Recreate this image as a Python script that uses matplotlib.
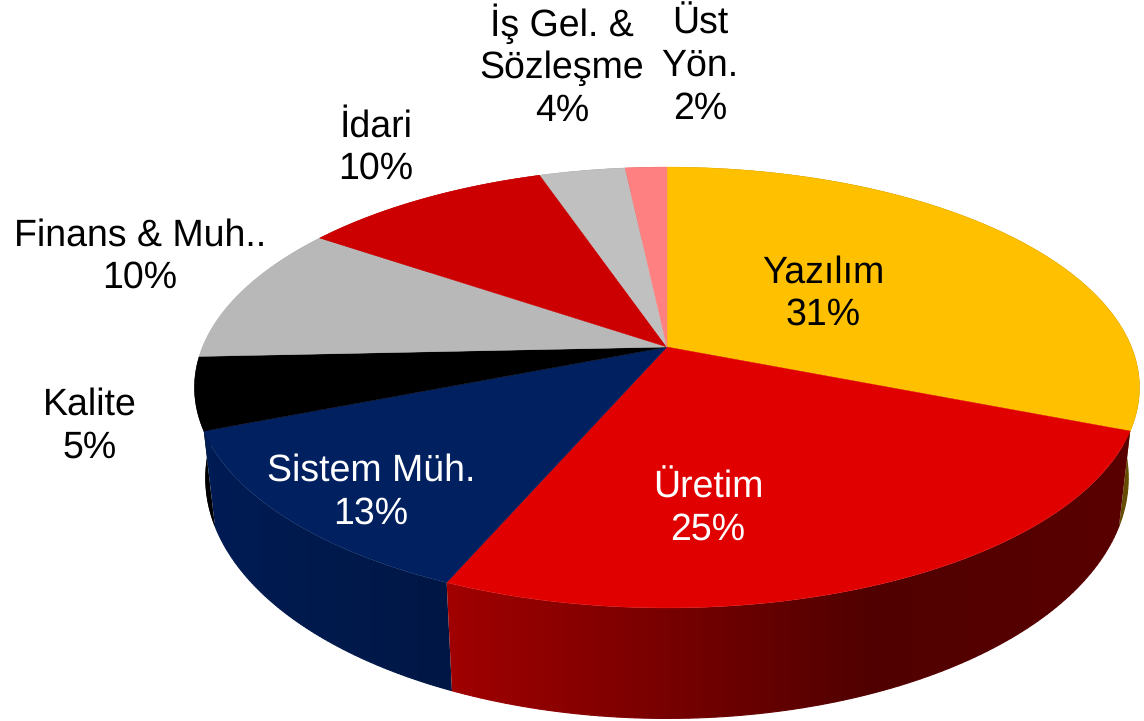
# 3D looking pie chart, drawn by hand since matplotlib has no perspective pie
import numpy as np
import matplotlib
matplotlib.use('Agg')
import matplotlib.pyplot as plt
from matplotlib.patches import Polygon

plt.rcParams['font.family'] = ['Liberation Sans', 'DejaVu Sans']
plt.rcParams['text.hinting'] = 'none'

# Data (shares estimated from the slice edges, labels show them rounded)
names = ['Yazılım', 'Üretim', 'Sistem Müh.', 'Kalite', 'Finans & Muh..', 'İdari',
         'İş Gel. &\nSözleşme', 'Üst\nYön.']
shares = [31.0, 25.45, 12.55, 5.3, 10.25, 10.25, 3.5, 1.7]
percents = [31, 25, 13, 5, 10, 10, 4, 2]

colors = ['#FFC000', '#E00000', '#002060', '#000000', '#B8B8B8', '#CC0000', '#C0C0C0', '#FF8080']
text_colors = ['black', 'white', 'white', 'black', 'black', 'black', 'black', 'black']
label_pos = [(823, 294), (708, 509), (371, 492.5), (90, 426.5), (140, 257), (376, 148), (562, 66), (700, 66)]

# Pie geometry in pixels
cx, cy = 667, 347
a, b, k = 464.5, 213, 0.1837


def to_px(t, bottom=False):
    # t is clockwise from 12 o'clock, k gives the perspective
    u, v = np.sin(t), np.cos(t)
    d = 1 + k * v
    x, y = a * u / d, -b * v / d
    if bottom:
        x = x * 0.976
        y = y * 1.09 + 87
    return cx + x, cy + y


fig = plt.figure(figsize=(11.44, 7.21), dpi=100)
ax = fig.add_axes([0, 0, 1, 1])

edges = np.radians(np.cumsum([0] + shares) * 3.6)

# Wall brightness runs left to right
px = np.arange(1144)
brightness = np.interp(px, [204, 447, 870, 1140], [0.88, 0.72, 0.36, 0.40])

# Side wall, one clipped gradient per slice, back slices first
order = np.argsort(-np.cos((edges[:-1] + edges[1:]) / 2))
for i in order:
    ts = np.linspace(edges[i], edges[i + 1], 300)
    xt, yt = to_px(ts)
    xb, yb = to_px(ts, bottom=True)
    wall = Polygon(np.c_[np.r_[xt, xb[::-1]], np.r_[yt, yb[::-1]]], closed=True,
                   transform=ax.transData, fc='none', ec='none')
    ax.add_patch(wall)
    base = np.array(matplotlib.colors.to_rgb(colors[i]))
    grad = (brightness[None, :, None] * base[None, None, :])
    im = ax.imshow(grad, extent=[0, 1144, 721, 0], aspect='auto', zorder=1, interpolation='nearest')
    im.set_clip_path(wall)
    # thin edge along the outer rim so it does not look jagged
    mid = brightness[np.clip(xb.astype(int), 0, 1143)][:, None] * base
    for j in range(0, len(ts) - 1, 3):
        ax.plot(xb[j:j + 4], yb[j:j + 4], color=mid[j], lw=0.8, zorder=1, solid_capstyle='round')

# Top face
for i, col in enumerate(colors):
    ts = np.linspace(edges[i], edges[i + 1], 200)
    xs, ys = to_px(ts)
    ax.fill(np.r_[cx, xs], np.r_[cy, ys], color=col, lw=0.3, zorder=2)

# Labels
for name, pct, pos, tc in zip(names, percents, label_pos, text_colors):
    ax.text(pos[0], pos[1], f'{name}\n{pct}%', color=tc, fontsize=27, ha='center',
            va='center', linespacing=1.26, zorder=3)

ax.set_xlim(0, 1144)
ax.set_ylim(721, 0)
ax.axis('off')

fig.savefig('out.png', dpi=100)
